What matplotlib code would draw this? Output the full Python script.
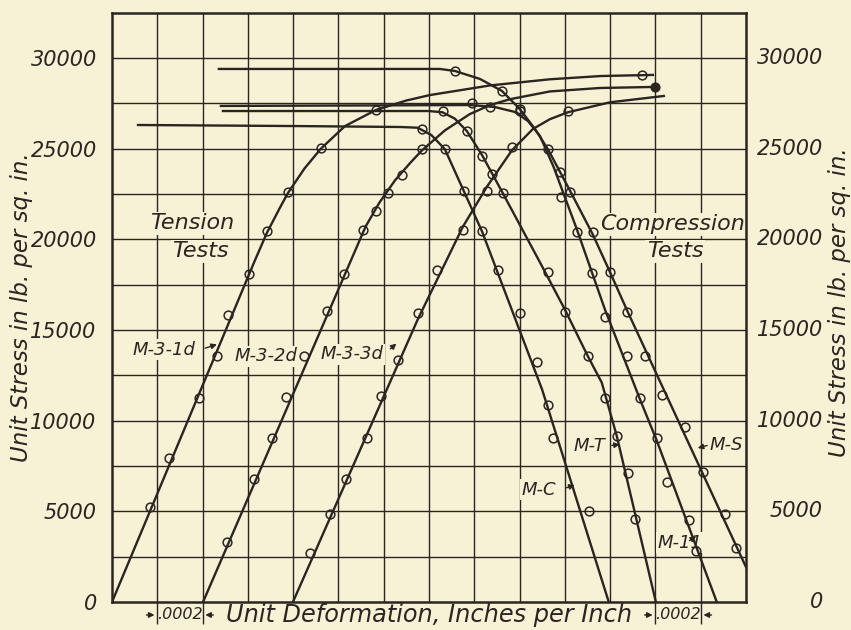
"""Stress-deformation curves, tension and compression tests (scanned chart redraw)."""
import matplotlib
matplotlib.use("Agg")
import matplotlib.pyplot as plt

BG = "#f7f2d6"
INK = "#2a2521"

# x values in units of 0.0001 in. per in. (each curve offset as in the original), y in lb. per sq. in.
# ---- tension tests ----  (line = drawn curve, p = observed points)
t1_x = [0, 6.3, 6.84, 7.4, 7.77, 8.5, 9.23, 10.29, 11.66, 13.0, 14.04, 16.69, 19.34, 21.6, 23.89]
t1_y = [0, 18800, 20350, 21700, 22550, 23900, 25000, 26240, 27130, 27650, 27950, 28480, 28820, 29000, 29060]
t1_px = [1.68, 2.52, 3.84, 4.64, 5.12, 6.05, 6.84, 7.77, 9.23, 11.66, 23.4]
t1_py = [5250, 7960, 11270, 13590, 15800, 18070, 20440, 22600, 25030, 27130, 29060]

t2_x = [4.02, 11.2, 11.8, 12.5, 13.2, 13.69, 14.7, 15.8, 16.7, 17.57, 19.34, 21.55, 24.0]
t2_y = [0, 20700, 22000, 23250, 24250, 24900, 26000, 26900, 27400, 27720, 28150, 28340, 28400]
t2_px = [5.08, 6.27, 7.06, 7.68, 8.48, 9.49, 10.24, 11.08, 11.66, 12.19, 12.8, 13.69, 15.89]
t2_py = [3320, 6800, 9060, 11330, 13540, 16020, 18070, 20500, 21550, 22540, 23540, 24970, 27510]

t3_x = [7.99, 13.51, 15.5, 16.56, 17.66, 18.59, 19.34, 20.13, 21.99, 24.37]
t3_y = [0, 15600, 20700, 22900, 24900, 26080, 26620, 27000, 27550, 27900]
t3_px = [8.74, 9.62, 10.33, 11.26, 11.88, 12.63, 13.51, 14.35, 15.5, 16.56, 17.66, 20.13]
t3_py = [2710, 4860, 6800, 9060, 11380, 13320, 15910, 18290, 20500, 22650, 25080, 27070]

# ---- compression tests ----
mc_x = [1.15, 8.3, 12.72, 13.5, 14.1, 14.7, 15.54, 16.34, 19.0, 21.94]
mc_y = [26300, 26240, 26190, 26150, 25750, 24970, 22650, 20440, 11700, 0]
mc_px = [13.69, 14.7, 15.54, 16.34, 17.04, 18.01, 18.76, 19.25, 19.47, 21.06]
mc_py = [26080, 24970, 22650, 20440, 18290, 15910, 13260, 10880, 9060, 5030]

mt_x = [4.9, 14.0, 14.6, 15.14, 15.67, 16.34, 17.26, 17.88, 18.9, 20.0, 21.02, 21.63, 22.3, 24.02]
mt_y = [27070, 27070, 27000, 26650, 25970, 24650, 22540, 21100, 18730, 16130, 13540, 12100, 9120, 0]
mt_px = [14.61, 15.67, 16.34, 16.78, 17.26, 19.25, 20.0, 21.02, 21.77, 22.3, 22.78, 23.09]
mt_py = [27070, 25970, 24590, 23590, 22540, 18180, 15970, 13540, 11270, 9170, 7130, 4590]

m11_x = [4.81, 15.81, 16.91, 17.79, 18.37, 18.9, 19.5, 20.53, 21.77, 23.31, 24.06, 26.71]
m11_y = [27350, 27400, 27290, 27020, 26520, 25700, 24000, 20550, 16130, 11200, 8900, 0]
m11_px = [16.69, 18.01, 19.82, 20.53, 21.19, 21.77, 22.74, 23.31, 24.06, 24.5, 25.47, 25.78]
m11_py = [27290, 27070, 22320, 20390, 18120, 15690, 13590, 11270, 9060, 6630, 4530, 2820]

ms_x = [4.72, 14.48, 15.14, 16.25, 17.22, 18.01, 18.68, 19.25, 20.22, 21.24, 21.99, 22.74, 28.0]
ms_y = [29390, 29390, 29280, 28840, 28180, 27180, 26080, 24970, 22700, 20250, 18200, 16100, 1930]
ms_px = [15.14, 17.22, 18.01, 19.25, 19.78, 20.22, 21.24, 21.99, 22.74, 23.53, 24.28, 25.3, 26.09, 27.06, 27.55]
ms_py = [29280, 28180, 27180, 24970, 23700, 22600, 20390, 18180, 15970, 13590, 11440, 9670, 7180, 4860, 2980]

y_ticks = [0, 5000, 10000, 15000, 20000, 25000, 30000]

fig = plt.figure(figsize=(8.51, 6.30), dpi=100, facecolor=BG)
ax = fig.add_axes([0.1316, 0.0444, 0.745, 0.9357], facecolor=BG)
ax.set_xlim(0, 28)
ax.set_ylim(0, 32500)

# grid: every .0002 across, every 2500 lb. up
for gx in range(2, 28, 2):
    ax.axvline(gx, color=INK, lw=1.0, zorder=1)
for gy in range(2500, 32500, 2500):
    ax.axhline(gy, color=INK, lw=1.0, zorder=1)
for s in ax.spines.values():
    s.set_color(INK)
    s.set_linewidth(1.8)

curves = [(t1_x, t1_y, t1_px, t1_py), (t2_x, t2_y, t2_px, t2_py), (t3_x, t3_y, t3_px, t3_py),
          (mc_x, mc_y, mc_px, mc_py), (mt_x, mt_y, mt_px, mt_py),
          (m11_x, m11_y, m11_px, m11_py), (ms_x, ms_y, ms_px, ms_py)]
for cx, cy, px, py in curves:
    ax.plot(cx, cy, color=INK, lw=1.7, solid_joinstyle="round", zorder=3)
    ax.plot(px, py, "o", ms=6.3, mfc="none", mec=INK, mew=1.1, zorder=4)
ax.plot([24.0], [28400], "o", ms=6.3, color=INK, zorder=4)

# labels sit over the grid (which they blank out) but under the curves
lab = dict(color=INK, style="oblique", zorder=2)
box = dict(facecolor=BG, edgecolor="none", pad=1)
ax.text(3.53, 20880, "Tension", fontsize=16, ha="center", va="center", bbox=box, **lab)
ax.text(3.9, 19340, "Tests", fontsize=16, ha="center", va="center", bbox=box, **lab)
ax.text(24.75, 20830, "Compression", fontsize=16, ha="center", va="center", bbox=box, **lab)
ax.text(24.86, 19340, "Tests", fontsize=16, ha="center", va="center", bbox=box, **lab)

labels = [("M-3-1d", 0.9, 13900), ("M-3-2d", 5.4, 13540), ("M-3-3d", 9.2, 13650),
          ("M-T", 20.4, 8620), ("M-C", 18.1, 6190), ("M-11", 24.1, 3260), ("M-S", 26.4, 8670)]
for name, lx, ly in labels:
    ax.text(lx, ly, name, fontsize=13, ha="left", va="center", bbox=box, **lab)
arrows = [((4.0, 13950), (4.75, 14250)), ((12.2, 13850), (12.65, 14350)),
          ((21.95, 8620), (22.55, 8700)), ((19.95, 6250), (20.55, 6500)),
          ((25.4, 3300), (25.9, 3700)), ((26.4, 8670), (25.75, 8450))]
for (x0, y0), (x1, y1) in arrows:
    ax.annotate("", xy=(x1, y1), xytext=(x0, y0),
                arrowprops=dict(arrowstyle="-|>", color=INK, lw=1.0, mutation_scale=8), zorder=5)

# y tick labels: left via the axis, right placed by hand (right aligned)
ax.set_yticks(y_ticks)
ax.set_yticklabels([str(v) for v in y_ticks], fontsize=15, style="oblique", color=INK)
ax.tick_params(axis="y", length=0, pad=11)
ytr = ax.get_yaxis_transform()
for v in y_ticks:
    ax.text(1.1215, v, str(v), transform=ytr, fontsize=15, ha="right", va="center",
            color=INK, style="oblique")

# .0002 markers at the bottom
ax.set_xticks([2, 4, 24, 26])
ax.set_xticklabels([])
ax.tick_params(axis="x", direction="out", length=16, width=1.0, color=INK)

tr = ax.get_xaxis_transform()
for cx in (3, 25):
    ax.text(cx, -0.022, ".0002", transform=tr, fontsize=11.5, ha="center", va="center",
            color=INK, style="oblique")
    ax.annotate("", xy=(cx - 1, -0.022), xytext=(cx - 1.6, -0.022), xycoords=tr,
                arrowprops=dict(arrowstyle="-|>", color=INK, lw=1.0, mutation_scale=8))
    ax.annotate("", xy=(cx + 1, -0.022), xytext=(cx + 1.6, -0.022), xycoords=tr,
                arrowprops=dict(arrowstyle="-|>", color=INK, lw=1.0, mutation_scale=8))
ax.text(14.0, -0.022, "Unit Deformation, Inches per Inch", transform=tr,
        fontsize=17.3, ha="center", va="center", color=INK, style="oblique")

fig.text(0.0247, 0.513, "Unit Stress in lb. per sq. in.", rotation=90, fontsize=16.5,
         style="oblique", color=INK, ha="center", va="center")
fig.text(0.986, 0.52, "Unit Stress in lb. per sq. in.", rotation=90, fontsize=16.5,
         style="oblique", color=INK, ha="center", va="center")

plt.savefig("out.png", dpi=100, facecolor=BG)
